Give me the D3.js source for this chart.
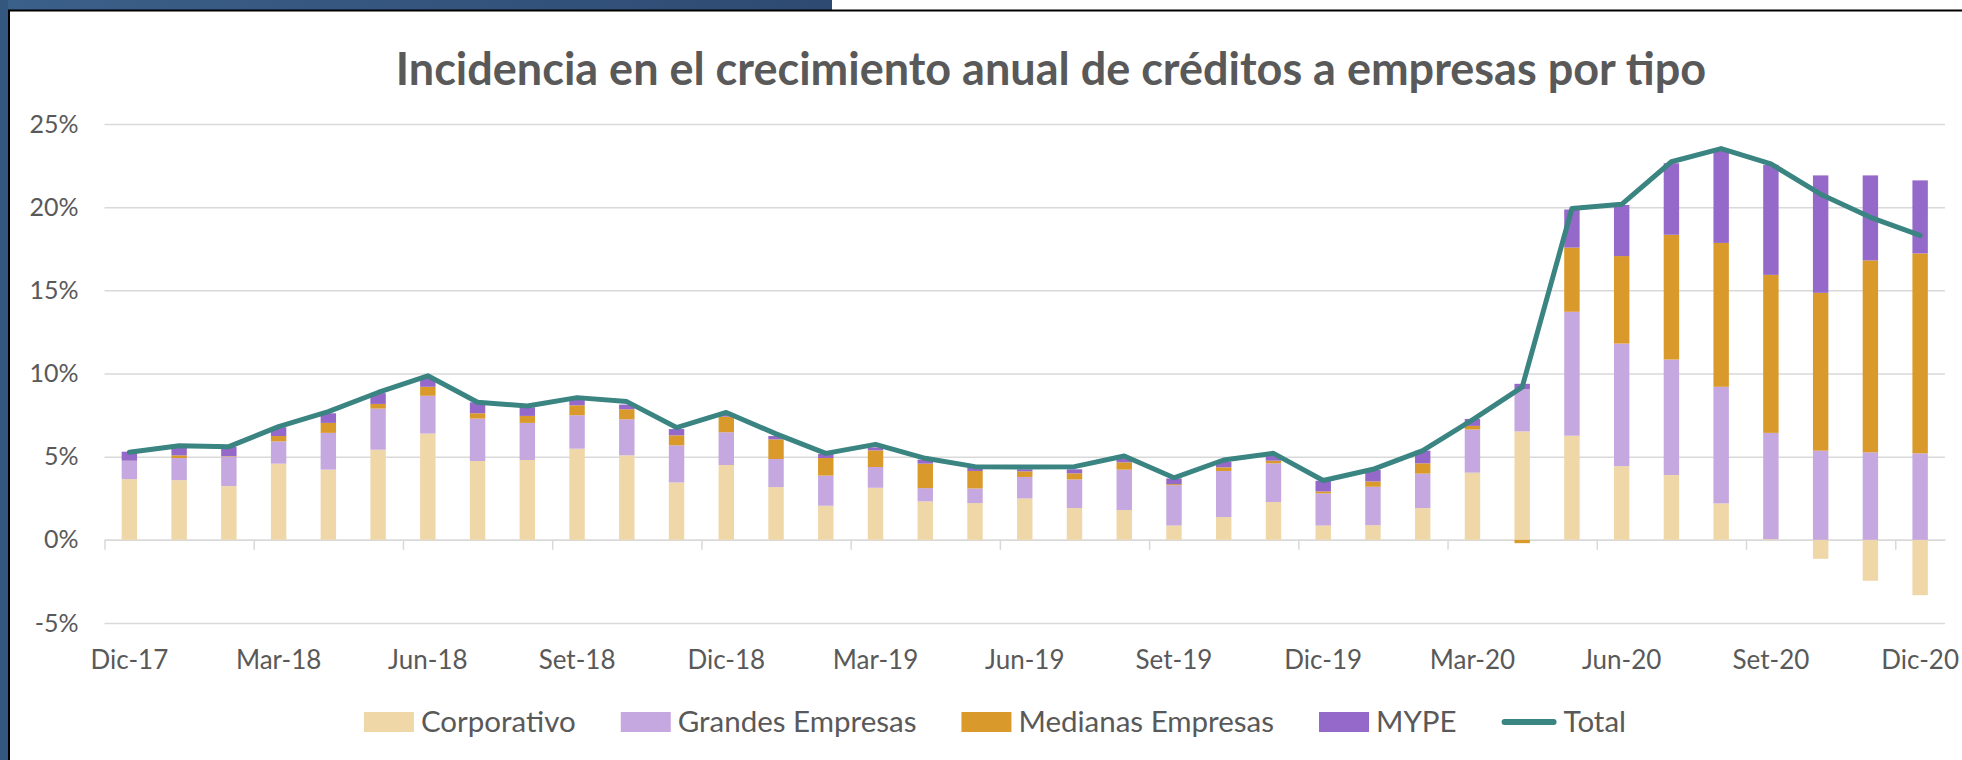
<!DOCTYPE html>
<html>
<head>
<meta charset="utf-8">
<script src="https://cdn.jsdelivr.net/npm/d3@7"></script>
<style>
body{margin:0;background:#fff;}
text{font-family:Lato,"Open Sans",sans-serif;fill:#595959;}
</style>
</head>
<body>
<script>
// meses (Dic-17 .. Dic-20)
var meses = ["Dic-17","Ene-18","Feb-18","Mar-18","Abr-18","May-18","Jun-18","Jul-18","Ago-18","Set-18","Oct-18","Nov-18",
  "Dic-18","Ene-19","Feb-19","Mar-19","Abr-19","May-19","Jun-19","Jul-19","Ago-19","Set-19","Oct-19","Nov-19",
  "Dic-19","Ene-20","Feb-20","Mar-20","Abr-20","May-20","Jun-20","Jul-20","Ago-20","Set-20","Oct-20","Nov-20","Dic-20"];

// incidencia en puntos porcentuales
var corporativo = [3.65,3.59,3.23,4.58,4.22,5.42,6.39,4.74,4.80,5.48,5.08,3.45,4.50,3.17,2.05,3.13,2.31,2.21,2.49,1.91,1.79,0.86,1.37,2.27,0.86,0.88,1.91,4.04,6.52,6.26,4.43,3.90,2.19,0.04,-1.14,-2.46,-3.33];
var grandes = [1.09,1.33,1.77,1.34,2.21,2.47,2.27,2.55,2.23,2.01,2.17,2.23,1.97,1.69,1.81,1.25,0.80,0.88,1.29,1.72,2.43,2.43,2.77,2.33,1.93,2.31,2.07,2.59,2.54,7.45,7.37,6.94,7.01,6.39,5.36,5.26,5.20];
var medianas = [0.02,0.16,0.03,0.32,0.60,0.28,0.54,0.32,0.42,0.60,0.60,0.60,0.94,1.18,1.06,1.00,1.47,1.05,0.34,0.37,0.44,0.06,0.22,0.16,0.12,0.32,0.62,0.22,-0.20,3.86,5.26,7.50,8.65,9.50,9.49,11.54,12.02];
var mype = [0.54,0.44,0.56,0.53,0.58,0.65,0.56,0.66,0.52,0.38,0.28,0.38,0.20,0.20,0.24,0.18,0.24,0.20,0.12,0.24,0.24,0.34,0.34,0.28,0.64,0.69,0.76,0.42,0.32,2.29,3.07,4.30,5.53,6.62,7.06,5.11,4.39];
var total = [5.27,5.66,5.60,6.81,7.71,8.86,9.86,8.27,8.05,8.55,8.31,6.75,7.66,6.37,5.20,5.74,4.90,4.40,4.38,4.40,5.04,3.73,4.80,5.20,3.57,4.24,5.36,7.21,9.18,19.92,20.17,22.73,23.52,22.60,20.78,19.39,18.30];

var series = ["Corporativo","Grandes Empresas","Medianas Empresas","MYPE"];
var colores = ["#efd7a8","#c4a8df","#d99a2b","#9569c9"];
var yTicks = [-5,0,5,10,15,20,25];
var titulo = "Incidencia en el crecimiento anual de créditos a empresas por tipo";

var width = 1962, height = 760;
var pLeft = 104.5, pRight = 1945, pTop = 124, pBottom = 623;

var svg = d3.select("body").append("svg")
  .attr("width", width)
  .attr("height", height);

// marco
var grad = svg.append("defs").append("linearGradient").attr("id","azul");
grad.append("stop").attr("offset","0%").attr("stop-color","#3b6089");
grad.append("stop").attr("offset","100%").attr("stop-color","#2e4a72");
svg.append("rect").attr("x",0).attr("y",0).attr("width",832).attr("height",10).attr("fill","url(#azul)");
svg.append("rect").attr("x",0).attr("y",0).attr("width",8).attr("height",height).attr("fill","#34577f");
svg.append("path").attr("d","M9,"+height+"V10.5H"+width).attr("fill","none").attr("stroke","#000").attr("stroke-width",2);

var rows = meses.map(function(m,i){
  return {mes:m, "Corporativo":corporativo[i], "Grandes Empresas":grandes[i], "Medianas Empresas":medianas[i], "MYPE":mype[i]};
});

var x = d3.scaleBand().domain(meses).range([pLeft,pRight]).paddingInner(0.69).paddingOuter(0.345);
var y = d3.scaleLinear().domain([-5,25]).range([pBottom,pTop]);
var xEdge = d3.scaleLinear().domain([0,meses.length]).range([pLeft,pRight]);

// titulo
svg.append("text")
  .attr("x",1051).attr("y",85)
  .attr("text-anchor","middle")
  .style("font-size","45px").style("font-weight","bold")
  .text(titulo);

// grilla + eje y
var gy = svg.append("g").attr("transform","translate("+pLeft+",0)")
  .call(d3.axisLeft(y).tickValues(yTicks).tickSizeInner(-(pRight-pLeft)).tickSizeOuter(0).tickPadding(26).tickFormat(function(d){return d+"%";}));
gy.select(".domain").remove();
gy.selectAll("line").attr("stroke","#d9d9d9").attr("stroke-width",1.5);
gy.selectAll("text").style("font-size","25px").attr("fill","#595959").attr("font-family",null);

// eje x: marcas cada 3 meses
var gt = svg.append("g").attr("transform","translate(0,"+y(0)+")")
  .call(d3.axisBottom(xEdge).tickValues(d3.range(0,meses.length,3)).tickSizeInner(10).tickSizeOuter(0).tickFormat(""));
gt.selectAll("line,path").attr("stroke","#d9d9d9").attr("stroke-width",1.5);

// eje x: etiquetas debajo del area
var gx = svg.append("g").attr("transform","translate(0,651)")
  .call(d3.axisBottom(x).tickValues(meses.filter(function(d,i){return i%3==0;})).tickSize(0).tickPadding(0));
gx.select(".domain").remove();
gx.selectAll("text").style("font-size","26px").attr("fill","#595959").attr("font-family",null);

// barras apiladas
var stack = d3.stack().keys(series).offset(d3.stackOffsetDiverging)(rows);
svg.append("g").selectAll("g").data(stack).enter().append("g")
  .attr("fill",function(d,i){return colores[i];})
  .selectAll("rect").data(function(d){return d;}).enter().append("rect")
  .attr("x",function(d){return x(d.data.mes);})
  .attr("width",x.bandwidth())
  .attr("y",function(d){return y(Math.max(d[0],d[1]));})
  .attr("height",function(d){return Math.abs(y(d[0])-y(d[1]));});

// linea total
var line = d3.line()
  .x(function(d,i){return x(meses[i])+x.bandwidth()/2;})
  .y(function(d){return y(d);});
svg.append("path").datum(total)
  .attr("d",line)
  .attr("fill","none")
  .attr("stroke","#3a8482")
  .attr("stroke-width",5)
  .attr("stroke-linejoin","round")
  .attr("stroke-linecap","round");

// leyenda
var leg = svg.append("g");
var cx = 0;
series.concat(["Total"]).forEach(function(s,i){
  var it = leg.append("g").attr("transform","translate("+cx+",0)");
  var w = 50;
  if(i<4){
    it.append("rect").attr("x",0).attr("y",-10).attr("width",50).attr("height",20).attr("fill",colores[i]);
  } else {
    w = 55;
    it.append("line").attr("x1",3).attr("x2",52).attr("y1",0).attr("y2",0)
      .attr("stroke","#3a8482").attr("stroke-width",6).attr("stroke-linecap","round");
  }
  var t = it.append("text").attr("x",w+7).attr("y",10).style("font-size","29.5px").text(s);
  cx += w + 7 + t.node().getComputedTextLength() + 45;
});
var lw = cx - 45;
leg.attr("transform","translate("+(995-lw/2)+",722)");
</script>
</body>
</html>
